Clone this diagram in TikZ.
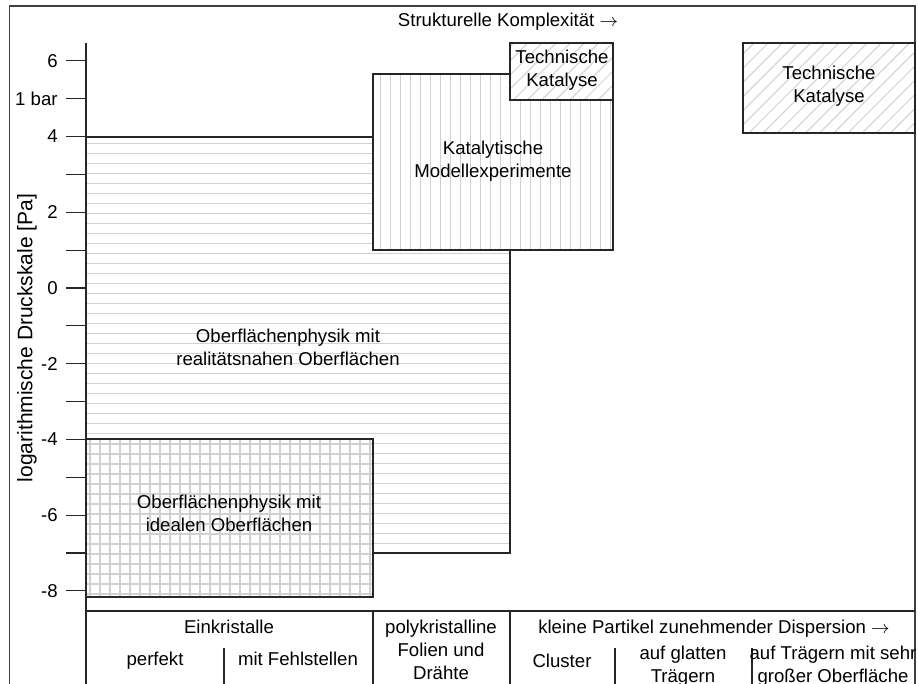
\documentclass[tikz,border=0pt]{standalone}
\usepackage{fontspec}
\setmainfont{Liberation Sans}
\usetikzlibrary{patterns.meta}

\tikzset{
  box/.style={draw=black!85,line width=0.55pt,preaction={fill=white}},
  schraffur/.style={pattern={Lines[angle=#1,distance=5pt,line width=0.5pt]},pattern color=black!18},
  gitter/.style={pattern={Hatch[distance=5pt,line width=0.6pt]},pattern color=black!18},
  txt/.style={align=center,font=\fontsize{9.3}{11.5}\selectfont,inner sep=0pt},
  linie/.style={black!85,line width=0.55pt},
}

\begin{document}
\begin{tikzpicture}[x=0.5pt,y=-0.5pt]
    \useasboundingbox (0,0) rectangle (918,684);
    \clip (0,0) rectangle (918,684);
    %Rahmen
    \draw[black!75,line width=0.65pt] (9.5,700) -- (9.5,6) -- (915,6) -- (915,700);
    \node[txt] (titel) at (508,22) {Strukturelle Komplexität $\rightarrow$};

    %Achse
    \draw[linie] (86,43) -- (86,700);
    \foreach \v in {6,5,...,-8}
        \draw[linie] (66,{288-37.86*\v}) -- (86,{288-37.86*\v});
    \foreach \v/\t in {6/6,5/1 bar,4/4,2/2,0/0,-2/-2,-4/-4,-6/-6,-8/-8}
        \node[txt,anchor=east] (tick\v) at (58,{288-37.86*\v}) {\t};
    \node[txt,rotate=90,font=\fontsize{10.5}{12}\selectfont] (achse) at (27,338) {logarithmische Druckskale [Pa]};

    %Bereiche
    \draw[box,schraffur=0] (86,137) rectangle (510,553);
    \draw[box,gitter] (86,439) rectangle (373,597);
    \draw[box,schraffur=90] (373,74) rectangle (613,250);
    \draw[box,schraffur=45] (510,43) rectangle (613,100);
    \draw[box,schraffur=45] (743,43) rectangle (915,133);

    \node[txt] (real) at (288,347) {Oberflächenphysik mit\\realitätsnahen Oberflächen};
    \node[txt] (ideal) at (229,513) {Oberflächenphysik mit\\idealen Oberflächen};
    \node[txt] (modell) at (493,161) {Katalytische\\Modellexperimente};
    \node[txt] (technik1) at (562,70) {Technische\\Katalyse};
    \node[txt] (technik2) at (829,86) {Technische\\Katalyse};

    %Tabelle
    \draw[linie] (86,611) -- (915,611);
    \draw[linie] (373,611) -- (373,700);
    \draw[linie] (510,611) -- (510,700);
    \draw[linie] (224,648) -- (224,700);
    \draw[linie] (615,648) -- (615,700);
    \draw[linie] (752,648) -- (752,700);

    \node[txt,anchor=base] (einkristalle) at (229,634) {Einkristalle};
    \node[txt,anchor=base] (perfekt) at (155,666) {perfekt};
    \node[txt,anchor=base] (fehlst) at (298,666) {mit Fehlstellen};
    \node[txt] (polykrist) at (441,650) {polykristalline\\Folien und\\Drähte};
    \node[txt,anchor=base] (partikel) at (714,634) {kleine Partikel zunehmender Dispersion $\rightarrow$};
    \node[txt,anchor=base] (cluster) at (562,668) {Cluster};
    \node[txt] (glatt) at (683,666) {auf glatten\\Trägern};
    \node[txt] (traeger) at (833,666) {auf Trägern mit sehr\\großer Oberfläche};
\end{tikzpicture}
\end{document}
